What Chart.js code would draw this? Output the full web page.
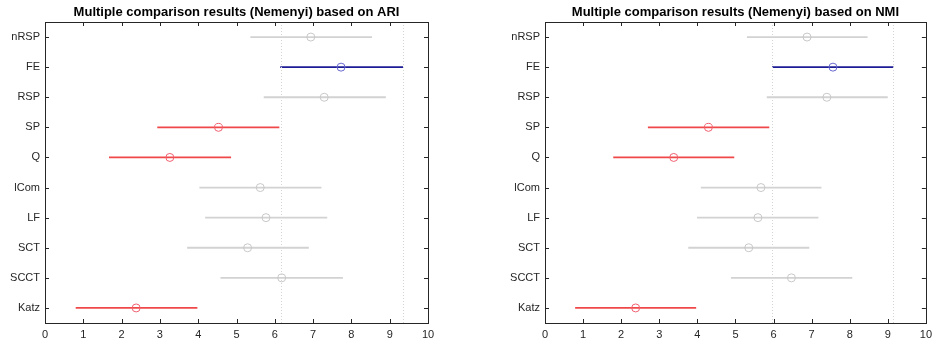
<!DOCTYPE html>
<html>
<head>
    <script src="https://cdn.jsdelivr.net/npm/chart.js@4"></script>
    <style>
        body { margin: 0; background: #fff; }
        .panel { position: absolute; top: 0; width: 468px; height: 345px; }
    </style>
</head>
<body>
<div class="panel" style="left:0"><canvas id="ariChart"></canvas></div>
<div class="panel" style="left:468px;width:469px"><canvas id="nmiChart"></canvas></div>
<script>
    // methods, top to bottom
    var methods = ['nRSP', 'FE', 'RSP', 'SP', 'Q', 'lCom', 'LF', 'SCT', 'SCCT', 'Katz'];
    var xTicks = [0, 1, 2, 3, 4, 5, 6, 7, 8, 9, 10];

    // mean ranks and interval ends, ARI
    var ariMean = [6.94, 7.73, 7.29, 4.53, 3.26, 5.62, 5.77, 5.29, 6.18, 2.38];
    var ariLow  = [5.37, 6.15, 5.72, 2.94, 1.68, 4.04, 4.19, 3.72, 4.59, 0.81];
    var ariHigh = [8.53, 9.34, 8.89, 6.11, 4.85, 7.21, 7.36, 6.88, 7.77, 3.97];

    // mean ranks and interval ends, NMI
    var nmiMean = [6.88, 7.56, 7.40, 4.29, 3.38, 5.67, 5.59, 5.35, 6.47, 2.38];
    var nmiLow  = [5.31, 5.97, 5.83, 2.71, 1.80, 4.10, 4.00, 3.77, 4.89, 0.80];
    var nmiHigh = [8.46, 9.14, 8.99, 5.88, 4.96, 7.25, 7.17, 6.93, 8.06, 3.96];

    // group of each method: 0 = not significant, 1 = reference (FE), 2 = significantly different
    var ariGroup = [0, 1, 0, 2, 2, 0, 0, 0, 0, 2];
    var nmiGroup = [0, 1, 0, 2, 2, 0, 0, 0, 0, 2];

    var lineColors = ['#d2d2d2', '#1c1c96', '#f04848'];
    var dotColors = ['#c8c8c8', '#6a6ad0', '#f06070'];

    var axisColor = '#262626';
    var fontFamily = 'Liberation Sans, Arial, sans-serif';

    // MATLAB style box with inner ticks, dotted reference lines and the title
    var boxPlugin = {
        id: 'box',
        afterDraw: function (chart, args, opts) {
            var ctx = chart.ctx;
            var a = chart.chartArea;
            var xs = chart.scales.x, ys = chart.scales.y;
            ctx.save();
            // dotted lines at the FE interval ends
            ctx.strokeStyle = '#d4d4d4';
            ctx.lineWidth = 1;
            ctx.setLineDash([1, 2]);
            opts.refs.forEach(function (v) {
                var px = Math.round(xs.getPixelForValue(v)) + 0.5;
                ctx.beginPath();
                ctx.moveTo(px, a.top);
                ctx.lineTo(px, a.bottom);
                ctx.stroke();
            });
            ctx.setLineDash([]);
            ctx.strokeStyle = axisColor;
            ctx.lineWidth = 1;
            ctx.strokeRect(Math.round(a.left) + 0.5, Math.round(a.top) + 0.5,
                Math.round(a.right - a.left), Math.round(a.bottom - a.top));
            ctx.beginPath();
            xTicks.forEach(function (t) {
                var px = Math.round(xs.getPixelForValue(t)) + 0.5;
                ctx.moveTo(px, a.top);
                ctx.lineTo(px, a.top + 4);
                ctx.moveTo(px, a.bottom);
                ctx.lineTo(px, a.bottom - 4);
            });
            methods.forEach(function (m, i) {
                var py = Math.round(ys.getPixelForValue(i)) + 0.5;
                ctx.moveTo(a.left, py);
                ctx.lineTo(a.left + 4, py);
                ctx.moveTo(a.right, py);
                ctx.lineTo(a.right - 4, py);
            });
            ctx.stroke();
            // title centred over the axes box
            ctx.fillStyle = '#000';
            ctx.font = 'bold 13px ' + fontFamily;
            ctx.textAlign = 'center';
            ctx.textBaseline = 'middle';
            ctx.fillText(opts.title, (a.left + a.right) / 2, 12);
            ctx.restore();
        }
    };

    function makeChart(id, title, mean, low, high, group, leftWidth, rightPad) {
        var ranges = low.map(function (l, i) { return [l, high[i]]; });
        return new Chart(document.getElementById(id).getContext('2d'), {
            type: 'bar',
            data: {
                labels: methods,
                datasets: [{
                    type: 'line',
                    data: mean,
                    showLine: false,
                    pointStyle: 'circle',
                    pointRadius: 4,
                    pointBorderWidth: 1,
                    pointBackgroundColor: 'rgba(255,255,255,0)',
                    pointBorderColor: group.map(function (g) { return dotColors[g]; }),
                    order: 0
                }, {
                    data: ranges,
                    barThickness: 1.1,
                    backgroundColor: group.map(function (g) { return lineColors[g]; }),
                    borderWidth: 0,
                    order: 1
                }]
            },
            options: {
                indexAxis: 'y',
                responsive: false,
                animation: false,
                devicePixelRatio: 1,
                layout: { padding: { left: 0, right: rightPad, top: 22, bottom: 0 } },
                plugins: {
                    legend: { display: false },
                    tooltip: { enabled: false },
                    title: { display: false },
                    box: { refs: [low[1], high[1]], title: title }
                },
                scales: {
                    x: {
                        type: 'linear',
                        min: 0,
                        max: 10,
                        afterFit: function (s) { s.height = 22; },
                        afterBuildTicks: function (s) { s.ticks = xTicks.map(function (v) { return { value: v }; }); },
                        grid: { display: false, drawTicks: false },
                        border: { display: false },
                        ticks: {
                            color: axisColor,
                            padding: 5,
                            maxRotation: 0,
                            font: { family: fontFamily, size: 11 }
                        }
                    },
                    y: {
                        type: 'category',
                        offset: true,
                        afterFit: function (s) { s.width = leftWidth; },
                        grid: { display: false, drawTicks: false },
                        border: { display: false },
                        ticks: {
                            color: axisColor,
                            padding: 5,
                            font: { family: fontFamily, size: 11 }
                        }
                    }
                }
            },
            plugins: [boxPlugin]
        });
    }

    var c1 = document.getElementById('ariChart');
    c1.width = 468; c1.height = 345;
    var c2 = document.getElementById('nmiChart');
    c2.width = 469; c2.height = 345;

    makeChart('ariChart', 'Multiple comparison results (Nemenyi) based on ARI',
        ariMean, ariLow, ariHigh, ariGroup, 45, 40);
    makeChart('nmiChart', 'Multiple comparison results (Nemenyi) based on NMI',
        nmiMean, nmiLow, nmiHigh, nmiGroup, 77, 9);
</script>
</body>
</html>
